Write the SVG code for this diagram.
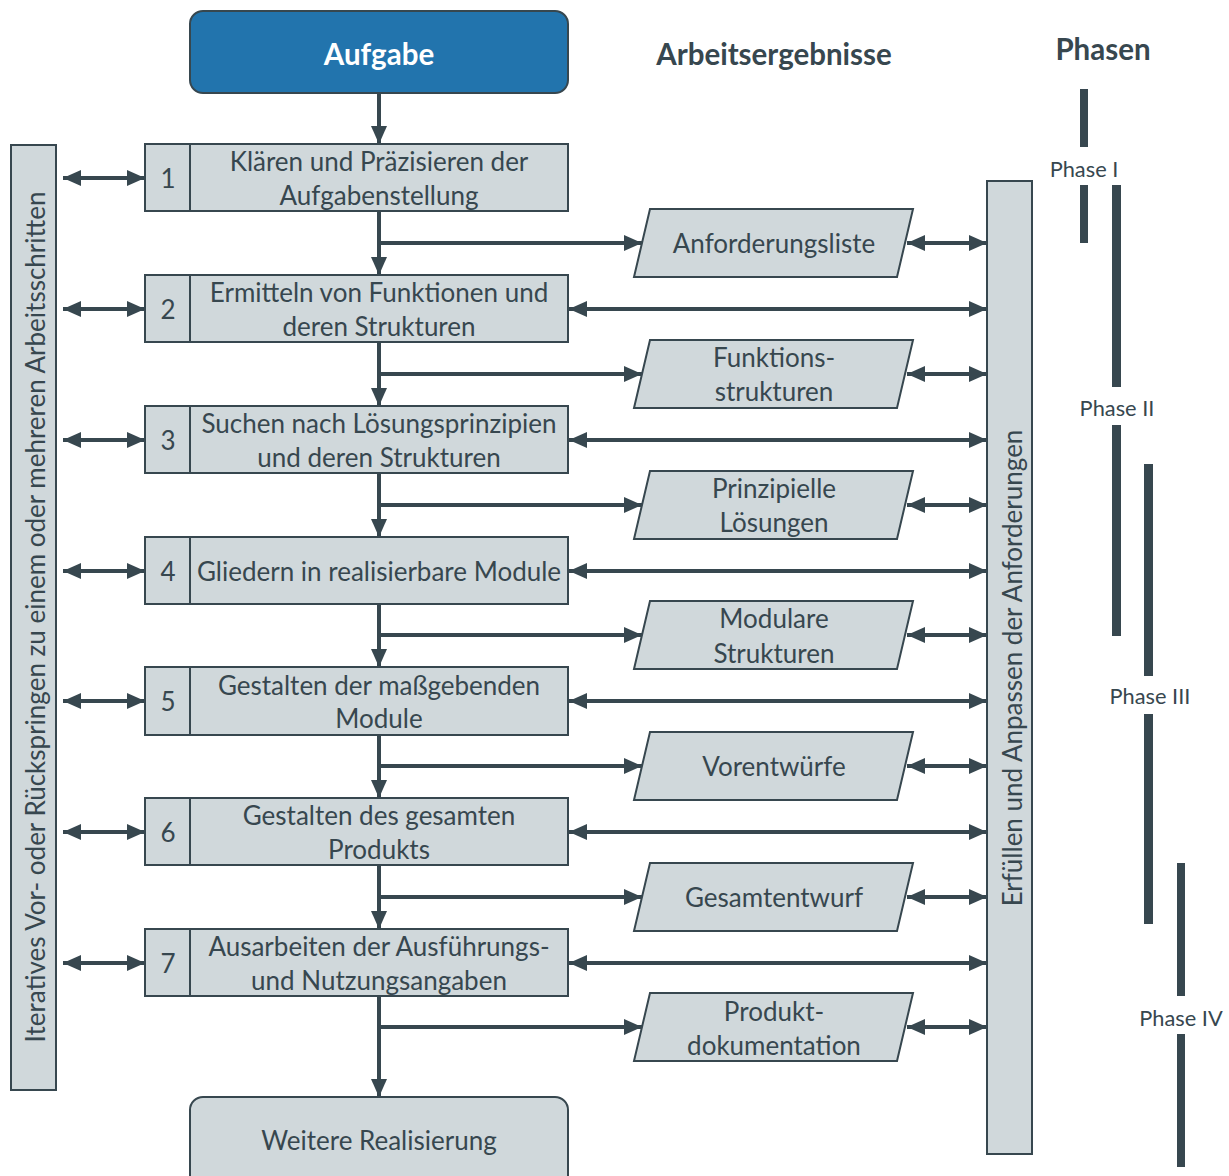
<svg xmlns="http://www.w3.org/2000/svg" width="1229" height="1176" viewBox="0 0 1229 1176">
  <style>
    text { font-family: Lato, "Open Sans", "Liberation Sans", sans-serif; fill: #37474f; }
    .box { fill: #d0d8db; stroke: #37474f; stroke-width: 2; }
    .lbl { font-size: 26px; text-anchor: middle; dominant-baseline: central; }
    .title { font-size: 29.5px; font-weight: bold; text-anchor: middle; dominant-baseline: central; }
    .phase { font-size: 21.8px; text-anchor: middle; dominant-baseline: central; }
    .bar { fill: #37474f; }
    .con { stroke: #37474f; stroke-width: 4; fill: none; }
    .end { marker-end: url(#ah); }
    .both { marker-start: url(#ahs); marker-end: url(#ah); }
  </style>
  <defs>
    <marker id="ah" markerUnits="userSpaceOnUse" markerWidth="18" markerHeight="16" refX="18" refY="8" orient="auto">
      <path d="M0,0 L18,8 L0,16 Z" fill="#37474f"/>
    </marker>
    <marker id="ahs" markerUnits="userSpaceOnUse" markerWidth="18" markerHeight="16" refX="0" refY="8" orient="auto">
      <path d="M18,0 L0,8 L18,16 Z" fill="#37474f"/>
    </marker>
  </defs>

  <!-- column headings -->
  <text class="title" x="774" y="53">Arbeitsergebnisse</text>
  <text class="title" x="1103" y="48">Phasen</text>

  <!-- connectors -->
  <g id="connectors">
    <!-- main flow -->
    <line class="con end" x1="379" y1="93" x2="379" y2="144"/>
    <line class="con end" x1="379" y1="211" x2="379" y2="275"/>
    <line class="con end" x1="379" y1="342" x2="379" y2="406"/>
    <line class="con end" x1="379" y1="473" x2="379" y2="537"/>
    <line class="con end" x1="379" y1="604" x2="379" y2="667"/>
    <line class="con end" x1="379" y1="735" x2="379" y2="798"/>
    <line class="con end" x1="379" y1="865" x2="379" y2="929"/>
    <line class="con end" x1="379" y1="996" x2="379" y2="1097"/>
    <!-- branches to results -->
    <line class="con end" x1="379" y1="243" x2="642" y2="243"/>
    <line class="con end" x1="379" y1="374" x2="642" y2="374"/>
    <line class="con end" x1="379" y1="505" x2="642" y2="505"/>
    <line class="con end" x1="379" y1="635" x2="642" y2="635"/>
    <line class="con end" x1="379" y1="766" x2="642" y2="766"/>
    <line class="con end" x1="379" y1="897" x2="642" y2="897"/>
    <line class="con end" x1="379" y1="1027" x2="642" y2="1027"/>
    <!-- results to requirements bar -->
    <line class="con both" x1="907" y1="243" x2="987" y2="243"/>
    <line class="con both" x1="907" y1="374" x2="987" y2="374"/>
    <line class="con both" x1="907" y1="505" x2="987" y2="505"/>
    <line class="con both" x1="907" y1="635" x2="987" y2="635"/>
    <line class="con both" x1="907" y1="766" x2="987" y2="766"/>
    <line class="con both" x1="907" y1="897" x2="987" y2="897"/>
    <line class="con both" x1="907" y1="1027" x2="987" y2="1027"/>
    <!-- steps to requirements bar -->
    <line class="con both" x1="569" y1="309" x2="987" y2="309"/>
    <line class="con both" x1="569" y1="440" x2="987" y2="440"/>
    <line class="con both" x1="569" y1="571" x2="987" y2="571"/>
    <line class="con both" x1="569" y1="701" x2="987" y2="701"/>
    <line class="con both" x1="569" y1="832" x2="987" y2="832"/>
    <line class="con both" x1="569" y1="963" x2="987" y2="963"/>
    <!-- iteration bar to steps -->
    <line class="con both" x1="63" y1="178" x2="145" y2="178"/>
    <line class="con both" x1="63" y1="309" x2="145" y2="309"/>
    <line class="con both" x1="63" y1="440" x2="145" y2="440"/>
    <line class="con both" x1="63" y1="571" x2="145" y2="571"/>
    <line class="con both" x1="63" y1="701" x2="145" y2="701"/>
    <line class="con both" x1="63" y1="832" x2="145" y2="832"/>
    <line class="con both" x1="63" y1="963" x2="145" y2="963"/>
  </g>

  <!-- start node -->
  <g id="aufgabe">
    <rect x="190" y="11" width="378" height="82" rx="13" fill="#2274ad" stroke="#37474f" stroke-width="2"/>
    <text class="title" x="379" y="53" style="fill:#ffffff">Aufgabe</text>
  </g>

  <!-- side bars -->
  <g id="iteration">
    <rect class="box" x="11" y="145" width="45" height="945"/>
    <text class="lbl" transform="translate(35,617) rotate(-90)">Iteratives Vor- oder Rückspringen zu einem oder mehreren Arbeitsschritten</text>
  </g>
  <g id="anforderungen">
    <rect class="box" x="987" y="181" width="45" height="973"/>
    <text class="lbl" transform="translate(1012,668) rotate(-90)">Erfüllen und Anpassen der Anforderungen</text>
  </g>

  <!-- work steps -->
  <g id="step1">
    <rect class="box" x="145" y="144" width="423" height="67"/>
    <line x1="190" y1="144" x2="190" y2="211" stroke="#37474f" stroke-width="2"/>
    <text class="lbl" x="168" y="178">1</text>
    <text class="lbl" x="379" y="161">Klären und Präzisieren der</text>
    <text class="lbl" x="379" y="195">Aufgabenstellung</text>
  </g>
  <g id="step2">
    <rect class="box" x="145" y="275" width="423" height="67"/>
    <line x1="190" y1="275" x2="190" y2="342" stroke="#37474f" stroke-width="2"/>
    <text class="lbl" x="168" y="309">2</text>
    <text class="lbl" x="379" y="292">Ermitteln von Funktionen und</text>
    <text class="lbl" x="379" y="326">deren Strukturen</text>
  </g>
  <g id="step3">
    <rect class="box" x="145" y="406" width="423" height="67"/>
    <line x1="190" y1="406" x2="190" y2="473" stroke="#37474f" stroke-width="2"/>
    <text class="lbl" x="168" y="440">3</text>
    <text class="lbl" x="379" y="423">Suchen nach Lösungsprinzipien</text>
    <text class="lbl" x="379" y="457">und deren Strukturen</text>
  </g>
  <g id="step4">
    <rect class="box" x="145" y="537" width="423" height="67"/>
    <line x1="190" y1="537" x2="190" y2="604" stroke="#37474f" stroke-width="2"/>
    <text class="lbl" x="168" y="571">4</text>
    <text class="lbl" x="379" y="571">Gliedern in realisierbare Module</text>
  </g>
  <g id="step5">
    <rect class="box" x="145" y="667" width="423" height="68"/>
    <line x1="190" y1="667" x2="190" y2="735" stroke="#37474f" stroke-width="2"/>
    <text class="lbl" x="168" y="701">5</text>
    <text class="lbl" x="379" y="685">Gestalten der maßgebenden</text>
    <text class="lbl" x="379" y="718">Module</text>
  </g>
  <g id="step6">
    <rect class="box" x="145" y="798" width="423" height="67"/>
    <line x1="190" y1="798" x2="190" y2="865" stroke="#37474f" stroke-width="2"/>
    <text class="lbl" x="168" y="832">6</text>
    <text class="lbl" x="379" y="815">Gestalten des gesamten</text>
    <text class="lbl" x="379" y="849">Produkts</text>
  </g>
  <g id="step7">
    <rect class="box" x="145" y="929" width="423" height="67"/>
    <line x1="190" y1="929" x2="190" y2="996" stroke="#37474f" stroke-width="2"/>
    <text class="lbl" x="168" y="963">7</text>
    <text class="lbl" x="379" y="946">Ausarbeiten der Ausführungs-</text>
    <text class="lbl" x="379" y="980">und Nutzungsangaben</text>
  </g>

  <!-- end node -->
  <g id="realisierung">
    <rect class="box" x="190" y="1097" width="378" height="95" rx="13"/>
    <text class="lbl" x="379" y="1140">Weitere Realisierung</text>
  </g>

  <!-- work results -->
  <g id="res1">
    <polygon class="box" points="650,209 913,209 897,277 634,277"/>
    <text class="lbl" x="774" y="243">Anforderungsliste</text>
  </g>
  <g id="res2">
    <polygon class="box" points="650,340 913,340 897,408 634,408"/>
    <text class="lbl" x="774" y="357">Funktions-</text>
    <text class="lbl" x="774" y="391">strukturen</text>
  </g>
  <g id="res3">
    <polygon class="box" points="650,471 913,471 897,539 634,539"/>
    <text class="lbl" x="774" y="488">Prinzipielle</text>
    <text class="lbl" x="774" y="522">Lösungen</text>
  </g>
  <g id="res4">
    <polygon class="box" points="650,601 913,601 897,669 634,669"/>
    <text class="lbl" x="774" y="618">Modulare</text>
    <text class="lbl" x="774" y="653">Strukturen</text>
  </g>
  <g id="res5">
    <polygon class="box" points="650,732 913,732 897,800 634,800"/>
    <text class="lbl" x="774" y="766">Vorentwürfe</text>
  </g>
  <g id="res6">
    <polygon class="box" points="650,863 913,863 897,931 634,931"/>
    <text class="lbl" x="774" y="897">Gesamtentwurf</text>
  </g>
  <g id="res7">
    <polygon class="box" points="650,993 913,993 897,1061 634,1061"/>
    <text class="lbl" x="774" y="1011">Produkt-</text>
    <text class="lbl" x="774" y="1045">dokumentation</text>
  </g>

  <!-- phases -->
  <g id="phase1">
    <rect class="bar" x="1080" y="89" width="8" height="58"/>
    <text class="phase" x="1084" y="168">Phase I</text>
    <rect class="bar" x="1080" y="185" width="8" height="58"/>
  </g>
  <g id="phase2">
    <rect class="bar" x="1112" y="185" width="9" height="202"/>
    <text class="phase" x="1117" y="407">Phase II</text>
    <rect class="bar" x="1112" y="425" width="9" height="211"/>
  </g>
  <g id="phase3">
    <rect class="bar" x="1144" y="464" width="9" height="212"/>
    <text class="phase" x="1150" y="695">Phase III</text>
    <rect class="bar" x="1144" y="714" width="9" height="210"/>
  </g>
  <g id="phase4">
    <rect class="bar" x="1177" y="863" width="8" height="133"/>
    <text class="phase" x="1181" y="1017">Phase IV</text>
    <rect class="bar" x="1177" y="1034" width="8" height="133"/>
  </g>
</svg>
